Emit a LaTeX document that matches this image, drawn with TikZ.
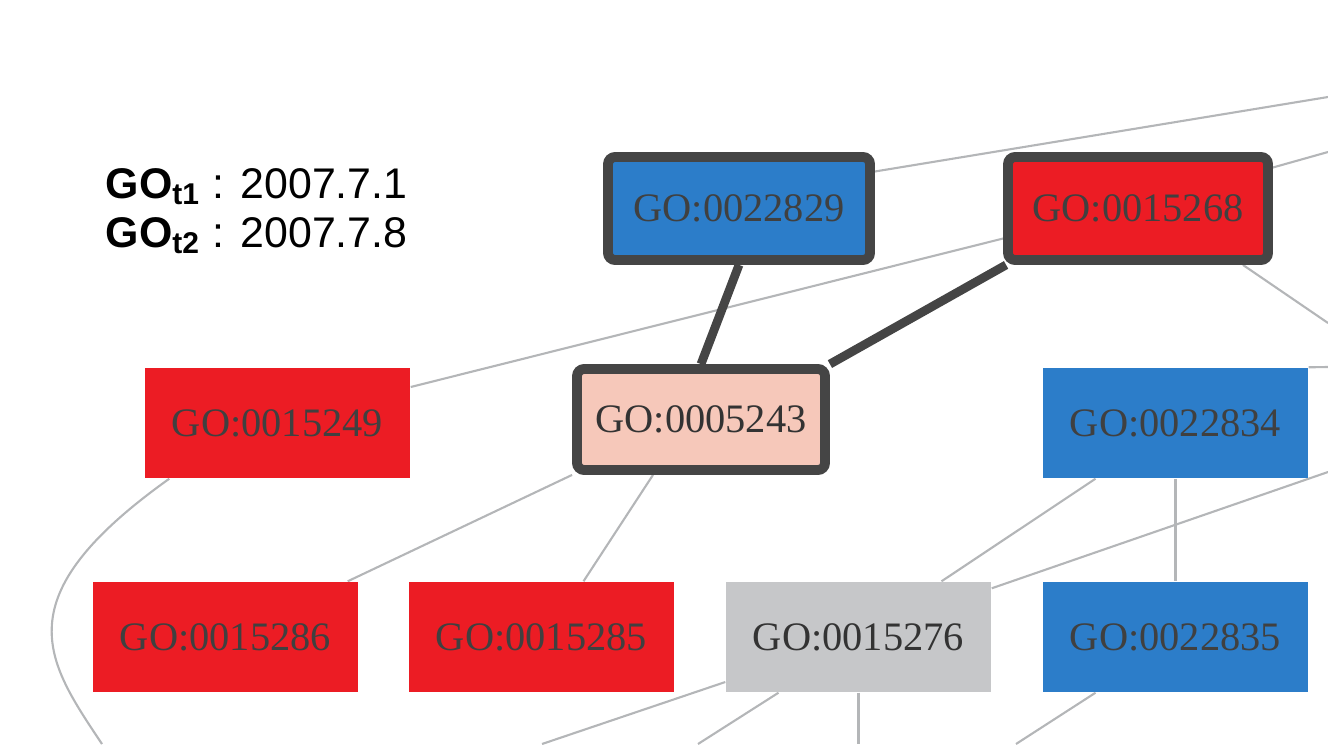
\documentclass[tikz,border=0pt]{standalone}
\usepackage{fontspec}
\setmainfont{Liberation Serif}
\newfontfamily\legendfont{Liberation Sans}
\usetikzlibrary{positioning,backgrounds,calc}
\definecolor{gored}{HTML}{EC1C24}
\definecolor{goblue}{HTML}{2C7DC9}
\definecolor{gopink}{HTML}{F6C8BA}
\definecolor{gogray}{HTML}{C6C7C9}
\definecolor{goline}{HTML}{454545}
\definecolor{golink}{HTML}{B4B6B8}

\tikzset{
  gobox/.style={rectangle, minimum width=2.65cm, minimum height=1.10cm,
                inner sep=0pt, font=\fontsize{11.5}{13}\selectfont, text=black!75},
  hit/.style={draw=goline, line width=2.8pt, rounded corners=2pt},
  weak/.style={draw=golink, line width=0.6pt},
  strong/.style={draw=goline, line width=2.5pt},
  legend/.style={anchor=base west, inner sep=0pt,
                 font=\legendfont\fontsize{12.2}{14}\selectfont}
}

\begin{document}
\begin{tikzpicture}
\useasboundingbox (0,0) rectangle (13.28,7.44);

% legend
\node[legend] (legA) at (1.05,5.46) {{\bfseries GO\textsubscript{t1}} : 2007.7.1};
\node[legend] (legB) at (1.05,4.97) {{\bfseries GO\textsubscript{t2}} : 2007.7.8};

% top row
\node[gobox, hit, fill=goblue, minimum width=2.62cm, minimum height=1.03cm]
  (n22829) at (7.39,5.355) {GO:0022829};
\node[gobox, hit, fill=gored, minimum width=2.60cm, minimum height=1.03cm]
  (n15268) at (11.38,5.355) {GO:0015268};

% middle row
\node[gobox, fill=gored] (n15249) at (2.775,3.21) {GO:0015249};
\node[gobox, hit, fill=gopink, text=black!80, minimum width=2.48cm, minimum height=1.01cm]
  (n5243) at (7.01,3.245) {GO:0005243};
\node[gobox, fill=goblue] (n22834) at (11.755,3.21) {GO:0022834};

% bottom row
\node[gobox, fill=gored] (n15286) at (2.255,1.07) {GO:0015286};
\node[gobox, fill=gored] (n15285) at (5.415,1.07) {GO:0015285};
\node[gobox, fill=gogray, text=black!80] (n15276) at (8.585,1.07) {GO:0015276};
\node[gobox, fill=goblue] (n22835) at (11.755,1.07) {GO:0022835};

% loose ends at the frame
\coordinate (outA) at (13.28,6.47);
\coordinate (outB) at (13.28,5.92);
\coordinate (outC) at (13.28,4.21);
\coordinate (outD) at (13.28,3.77);
\coordinate (outE) at (13.28,2.72);
\coordinate (outF) at (1.02,0);
\coordinate (outG) at (5.42,0);
\coordinate (outH) at (6.98,0);
\coordinate (outI) at (8.585,0);
\coordinate (outJ) at (10.16,0);

\begin{scope}[on background layer]
\draw[weak] ([yshift=3.7mm]n22829.east) -- (outA);
\draw[weak] ([yshift=4.1mm]n15268.east) -- (outB);
\draw[weak] ([xshift=-3mm]n15268.south east) -- (outC);
\draw[weak] ([yshift=3.6mm]n15249.east) -- ([yshift=-3mm]n15268.west);
\draw[weak] ([xshift=2.5mm]n15249.south west)
  .. controls (0.02,1.46) and (0.46,0.84) .. (outF);
\draw[weak] (n5243.south west) -- ([xshift=-1.1mm]n15286.north east);
\draw[weak] ([xshift=-4.8mm]n5243.south) -- ([xshift=4.2mm]n15285.north);
\draw[weak] ([xshift=-8mm]n22834.south) -- ([xshift=8.3mm]n15276.north);
\draw[weak] ([yshift=-0.7mm]n15276.north east) -- (outE);
\draw[weak] (n22834.south) -- (n22835.north);
\draw[weak] (n22834.north east) -- (outD);
\draw[weak] ([yshift=-4.5mm]n15276.west) -- (outG);
\draw[weak] ([xshift=-8mm]n15276.south) -- (outH);
\draw[weak] (n15276.south) -- (outI);
\draw[weak] ([xshift=-8mm]n22835.south) -- (outJ);

% changed links
\draw[strong] (n22829.south) -- (n5243.north);
\draw[strong] ([xshift=0.3mm]n15268.south west) -- (n5243.north east);
\end{scope}
\end{tikzpicture}
\end{document}
